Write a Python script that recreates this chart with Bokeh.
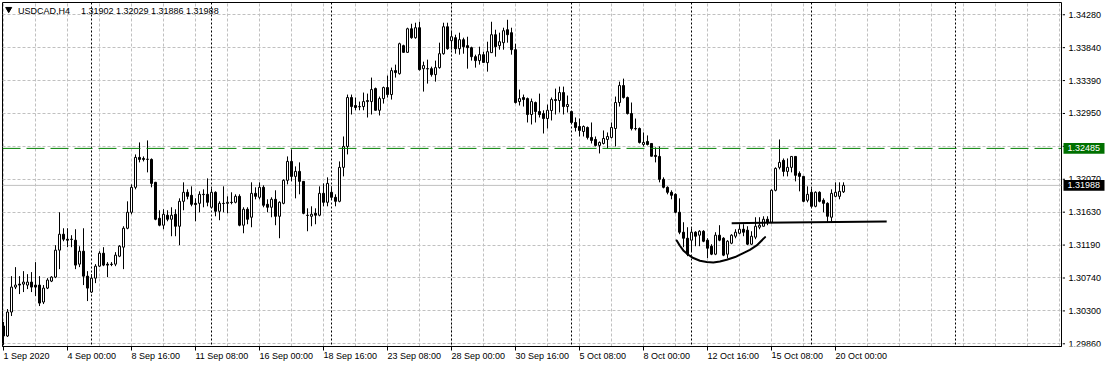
from bokeh.plotting import figure
from bokeh.layouts import row
from bokeh.models import Range1d, FixedTicker, Span, Label, ColumnDataSource, Grid
from bokeh.core.properties import value
from bokeh.embed import file_html
from bokeh.resources import INLINE

# ---------------- data (USDCAD H4, one value per bar) ----------------
open_p = [1.30099, 1.29965, 1.30287, 1.30622, 1.30662, 1.30662, 1.30649, 1.30689, 1.30649, 1.30649,
          1.30421, 1.30608, 1.30702, 1.30756, 1.31118, 1.31332, 1.31265, 1.31265, 1.31252, 1.30930,
          1.31104, 1.30769, 1.30555, 1.30742, 1.30903, 1.31077, 1.30930, 1.30930, 1.30930, 1.31037,
          1.31158, 1.31412, 1.31627, 1.31962, 1.32364, 1.32350, 1.32337, 1.32337, 1.32029, 1.31546,
          1.31453, 1.31587, 1.31533, 1.31600, 1.31439, 1.31774, 1.31895, 1.31855, 1.31747, 1.31747,
          1.31868, 1.31868, 1.31694, 1.31895, 1.31640, 1.31747, 1.31747, 1.31761, 1.31761, 1.31841,
          1.31453, 1.31667, 1.31560, 1.31881, 1.31828, 1.31962, 1.31734, 1.31694, 1.31801, 1.31573,
          1.31747, 1.32056, 1.32310, 1.32109, 1.32176, 1.32042, 1.31587, 1.31573, 1.31613, 1.31587,
          1.31881, 1.31761, 1.31895, 1.31828, 1.31774, 1.32230, 1.32511, 1.33168, 1.33061, 1.33047,
          1.33047, 1.33114, 1.33114, 1.33288, 1.32997, 1.33154, 1.33302, 1.33208, 1.33530, 1.33489,
          1.33865, 1.33775, 1.34092, 1.33972, 1.34106, 1.33556, 1.33556, 1.33556, 1.33476, 1.33570,
          1.33757, 1.34119, 1.33932, 1.33972, 1.33824, 1.33945, 1.33865, 1.33838, 1.33717, 1.33664,
          1.33744, 1.33637, 1.33771, 1.34012, 1.33865, 1.33905, 1.34079, 1.34039, 1.33811, 1.33114,
          1.33168, 1.33154, 1.32940, 1.33101, 1.32980, 1.32953, 1.32886, 1.32994, 1.33141, 1.33128,
          1.33235, 1.33047, 1.32980, 1.32833, 1.32779, 1.32712, 1.32766, 1.32632, 1.32605, 1.32525,
          1.32551, 1.32605, 1.32632, 1.32752, 1.33101, 1.33329, 1.33168, 1.32953, 1.32752, 1.32752,
          1.32538, 1.32578, 1.32551, 1.32391, 1.32377, 1.32069, 1.31962, 1.31895, 1.31868, 1.31627,
          1.31359, 1.31278, 1.31252, 1.31359, 1.31319, 1.31372, 1.31252, 1.31171, 1.31064, 1.31319,
          1.31278, 1.31064, 1.31211, 1.31305, 1.31345, 1.31399, 1.31386, 1.31198, 1.31292, 1.31426,
          1.31439, 1.31533, 1.31493, 1.31922, 1.32230, 1.32324, 1.32176, 1.32230, 1.32377, 1.32149,
          1.32109, 1.31788, 1.31895, 1.31707, 1.31895, 1.31788, 1.31747, 1.31560, 1.31841, 1.31841,
          1.31902]
high_p = [1.30153, 1.30327, 1.30769, 1.30890, 1.30769, 1.30836, 1.30796, 1.30823, 1.30957, 1.30769,
          1.30649, 1.30742, 1.30769, 1.31185, 1.31627, 1.31412, 1.31412, 1.31319, 1.31399, 1.31171,
          1.31412, 1.30836, 1.30796, 1.30930, 1.31104, 1.31158, 1.30957, 1.30957, 1.31091, 1.31185,
          1.31439, 1.31774, 1.32002, 1.32404, 1.32565, 1.32377, 1.32592, 1.32350, 1.32035, 1.31654,
          1.31667, 1.31654, 1.31694, 1.31667, 1.31814, 1.32029, 1.31935, 1.31975, 1.31814, 1.31908,
          1.31935, 1.32082, 1.31948, 1.31908, 1.31774, 1.31975, 1.31841, 1.31895, 1.31868, 1.31868,
          1.31694, 1.31694, 1.32029, 1.31962, 1.32029, 1.31989, 1.31801, 1.31828, 1.31922, 1.31774,
          1.32069, 1.32377, 1.32471, 1.32243, 1.32297, 1.32045, 1.31680, 1.31707, 1.31680, 1.31975,
          1.32015, 1.32096, 1.31975, 1.31868, 1.32310, 1.32645, 1.33208, 1.33208, 1.33168, 1.33114,
          1.33235, 1.33221, 1.33436, 1.33302, 1.33181, 1.33315, 1.33463, 1.33570, 1.33610, 1.33905,
          1.33878, 1.34106, 1.34159, 1.34173, 1.34186, 1.33650, 1.33677, 1.33583, 1.33664, 1.33905,
          1.34173, 1.34173, 1.34052, 1.34012, 1.34039, 1.33972, 1.33985, 1.33851, 1.33744, 1.33851,
          1.33784, 1.33918, 1.34186, 1.34079, 1.34039, 1.34106, 1.34213, 1.34106, 1.33891, 1.33275,
          1.33208, 1.33168, 1.33154, 1.33114, 1.33221, 1.32997, 1.33074, 1.33168, 1.33288, 1.33315,
          1.33315, 1.33195, 1.32985, 1.32900, 1.32886, 1.32793, 1.32779, 1.32833, 1.32645, 1.32578,
          1.32726, 1.32699, 1.32833, 1.33181, 1.33382, 1.33422, 1.33181, 1.33101, 1.32886, 1.32766,
          1.32699, 1.32659, 1.32555, 1.32498, 1.32511, 1.32096, 1.31975, 1.31922, 1.31881, 1.31814,
          1.31493, 1.31426, 1.31412, 1.31372, 1.31386, 1.31386, 1.31278, 1.31198, 1.31359, 1.31453,
          1.31292, 1.31252, 1.31332, 1.31399, 1.31466, 1.31466, 1.31439, 1.31372, 1.31560, 1.31560,
          1.31573, 1.31573, 1.31935, 1.32230, 1.32605, 1.32350, 1.32350, 1.32380, 1.32380, 1.32176,
          1.32112, 1.31975, 1.31948, 1.31908, 1.31908, 1.31814, 1.31761, 1.31935, 1.32029, 1.32029,
          1.32029]
low_p = [1.29845, 1.29952, 1.30233, 1.30595, 1.30528, 1.30555, 1.30595, 1.30555, 1.30501, 1.30367,
         1.30394, 1.30595, 1.30689, 1.30742, 1.30863, 1.31238, 1.31158, 1.31158, 1.30863, 1.30890,
         1.30649, 1.30434, 1.30541, 1.30675, 1.30890, 1.30903, 1.30756, 1.30903, 1.30903, 1.31024,
         1.30863, 1.31399, 1.31600, 1.31935, 1.32297, 1.32310, 1.32163, 1.31962, 1.31520, 1.31439,
         1.31399, 1.31506, 1.31305, 1.31305, 1.31185, 1.31654, 1.31801, 1.31707, 1.31506, 1.31627,
         1.31694, 1.31707, 1.31680, 1.31573, 1.31520, 1.31627, 1.31613, 1.31734, 1.31747, 1.31439,
         1.31345, 1.31466, 1.31426, 1.31801, 1.31801, 1.31694, 1.31627, 1.31560, 1.31453, 1.31278,
         1.31734, 1.32002, 1.32042, 1.31814, 1.31868, 1.31600, 1.31372, 1.31439, 1.31466, 1.31573,
         1.31707, 1.31707, 1.31801, 1.31707, 1.31761, 1.32109, 1.32404, 1.32940, 1.32997, 1.32997,
         1.32997, 1.32900, 1.32940, 1.32994, 1.32927, 1.33087, 1.33168, 1.33141, 1.33436, 1.33476,
         1.33771, 1.33771, 1.33958, 1.33958, 1.33530, 1.33248, 1.33355, 1.33449, 1.33382, 1.33556,
         1.33744, 1.33811, 1.33811, 1.33757, 1.33744, 1.33757, 1.33556, 1.33664, 1.33570, 1.33610,
         1.33637, 1.33516, 1.33768, 1.33717, 1.33811, 1.33811, 1.33905, 1.33744, 1.33087, 1.33061,
         1.33047, 1.32833, 1.32806, 1.32833, 1.32900, 1.32685, 1.32752, 1.32860, 1.32940, 1.32967,
         1.32940, 1.32967, 1.32819, 1.32712, 1.32645, 1.32645, 1.32605, 1.32551, 1.32511, 1.32417,
         1.32538, 1.32484, 1.32618, 1.32511, 1.33047, 1.33154, 1.32940, 1.32726, 1.32726, 1.32551,
         1.32511, 1.32525, 1.32377, 1.32297, 1.32029, 1.31948, 1.31868, 1.31801, 1.31613, 1.31332,
         1.31158, 1.31037, 1.31104, 1.31171, 1.31171, 1.31225, 1.31010, 1.31051, 1.31051, 1.31238,
         1.31037, 1.31010, 1.31198, 1.31278, 1.31332, 1.31305, 1.31185, 1.31185, 1.31265, 1.31399,
         1.31436, 1.31453, 1.31479, 1.31908, 1.32203, 1.32109, 1.32109, 1.32163, 1.32042, 1.31908,
         1.31761, 1.31761, 1.31694, 1.31694, 1.31761, 1.31627, 1.31493, 1.31493, 1.31828, 1.31801,
         1.31886]
close_p = [1.29965, 1.30287, 1.30622, 1.30649, 1.30649, 1.30689, 1.30689, 1.30622, 1.30622, 1.30407,
           1.30608, 1.30716, 1.30756, 1.31118, 1.31332, 1.31265, 1.31252, 1.31262, 1.30917, 1.31104,
           1.30769, 1.30608, 1.30742, 1.30903, 1.31077, 1.30917, 1.30917, 1.30925, 1.31051, 1.31171,
           1.31412, 1.31627, 1.31962, 1.32364, 1.32337, 1.32337, 1.32340, 1.32015, 1.31533, 1.31453,
           1.31600, 1.31533, 1.31587, 1.31439, 1.31774, 1.31895, 1.31841, 1.31734, 1.31730, 1.31868,
           1.31864, 1.31761, 1.31895, 1.31640, 1.31747, 1.31744, 1.31761, 1.31758, 1.31841, 1.31453,
           1.31667, 1.31533, 1.31881, 1.31841, 1.31962, 1.31721, 1.31694, 1.31801, 1.31573, 1.31761,
           1.32056, 1.32310, 1.32109, 1.32176, 1.32042, 1.31613, 1.31584, 1.31600, 1.31587, 1.31881,
           1.31761, 1.32015, 1.31828, 1.31774, 1.32230, 1.32511, 1.33168, 1.33047, 1.33034, 1.33044,
           1.33114, 1.33128, 1.33275, 1.32997, 1.33154, 1.33302, 1.33208, 1.33530, 1.33503, 1.33891,
           1.33775, 1.34092, 1.33972, 1.34106, 1.33543, 1.33597, 1.33553, 1.33476, 1.33570, 1.33757,
           1.34119, 1.33824, 1.33985, 1.33824, 1.33945, 1.33851, 1.33838, 1.33717, 1.33664, 1.33744,
           1.33640, 1.33784, 1.34012, 1.33851, 1.33918, 1.34066, 1.34012, 1.33811, 1.33101, 1.33154,
           1.33141, 1.32940, 1.33114, 1.32980, 1.32940, 1.32886, 1.32997, 1.33141, 1.33128, 1.33235,
           1.33047, 1.33074, 1.32833, 1.32766, 1.32726, 1.32779, 1.32632, 1.32592, 1.32525, 1.32565,
           1.32618, 1.32645, 1.32766, 1.33101, 1.33329, 1.33168, 1.32953, 1.32752, 1.32748, 1.32565,
           1.32565, 1.32538, 1.32380, 1.32377, 1.32069, 1.31962, 1.31895, 1.31855, 1.31627, 1.31359,
           1.31278, 1.31064, 1.31359, 1.31305, 1.31372, 1.31238, 1.31144, 1.31064, 1.31319, 1.31252,
           1.31051, 1.31238, 1.31319, 1.31359, 1.31399, 1.31359, 1.31198, 1.31305, 1.31439, 1.31453,
           1.31533, 1.31493, 1.31922, 1.32216, 1.32297, 1.32176, 1.32230, 1.32377, 1.32123, 1.32109,
           1.31774, 1.31868, 1.31707, 1.31895, 1.31774, 1.31747, 1.31573, 1.31881, 1.31895, 1.31908,
           1.31988]

# bottom axis: bar index of each labelled tick and its text
x_tick_index = [0, 16, 32, 48, 64, 80, 96, 112, 128, 144, 160, 176, 192, 208]
x_tick_labels = ["1 Sep 2020", "4 Sep 00:00", "8 Sep 16:00", "11 Sep 08:00", "16 Sep 00:00",
                 "18 Sep 16:00", "23 Sep 08:00", "28 Sep 00:00", "30 Sep 16:00", "5 Oct 08:00",
                 "8 Oct 00:00", "12 Oct 16:00", "15 Oct 08:00", "20 Oct 00:00"]
# right price scale: grid levels and their labels
y_tick_values = [1.29860, 1.30302, 1.30744, 1.31186, 1.31628, 1.32070, 1.32512,
                 1.32954, 1.33396, 1.33838, 1.34280]
y_tick_labels = ["1.29860", "1.30300", "1.30740", "1.31190", "1.31630", "1.32070", "1.32510",
                 "1.32950", "1.33390", "1.33840", "1.34280"]

# period separators (bar index) and drawn objects
separator_index = [22, 52, 82, 112, 142, 172, 202, 238]
level_price = 1.32485      # green horizontal level
bid_price = 1.31988        # current price line
tag_prices = [level_price, bid_price]
tag_texts = ["1.32485", "1.31988"]
trend_x = [182.05, 220.8]
trend_y = [1.31481, 1.31502]
cup_x = [168.3, 169.1, 169.95, 171.2, 172.45, 174.1, 175.8, 177.45, 179.1, 180.8,
         182.9, 184.95, 186.6, 188.3, 190.4]
cup_y = [1.31248, 1.31177, 1.31114, 1.31056, 1.31012, 1.30976, 1.30958, 1.30953, 1.30966,
         1.30989, 1.31025, 1.31079, 1.31123, 1.31181, 1.31293]

title_symbol = "USDCAD,H4"
title_prices = "1.31902 1.32029 1.31886 1.31988"

# ---------------- layout constants ----------------
FONT = "Liberation Sans"
GREEN = "#008000"
GRID = "#C0C0C0"
Y0, Y1 = 1.298238, 1.344447
FRAME_H = 345
PX = (Y1 - Y0) / FRAME_H      # price per screen pixel
yrange = Range1d(Y0, Y1)

n = len(close_p)
idx = list(range(n))
src = ColumnDataSource(dict(
    x=idx, high=high_p, low=low_p,
    top=[max(o, c) for o, c in zip(open_p, close_p)],
    bottom=[min(o, c) for o, c in zip(open_p, close_p)],
    fill=["white" if c >= o else "black" for o, c in zip(open_p, close_p)],
))

# ---------------- main chart ----------------
p = figure(width=1062, height=368, output_backend="svg", toolbar_location=None, tools="",
           x_range=Range1d(-0.25, 264.5), y_range=yrange,
           y_axis_location=None, x_axis_location="below",
           min_border_left=2, min_border_right=1, min_border_top=2, min_border_bottom=21)
p.background_fill_color = "white"
p.border_fill_color = "white"
p.outline_line_color = "black"
p.outline_line_width = 1

# grid
p.xgrid.ticker = FixedTicker(ticks=list(range(0, 265, 8)))
if len(p.ygrid) == 0:
    p.add_layout(Grid(dimension=1, ticker=FixedTicker(ticks=y_tick_values)))
else:
    p.ygrid.ticker = FixedTicker(ticks=y_tick_values)
for g in list(p.xgrid) + list(p.ygrid):
    g.grid_line_color = GRID
    g.grid_line_dash = "3 2"
    g.grid_line_width = 1

# bottom time axis
xa = p.xaxis[0]
xa.ticker = FixedTicker(ticks=x_tick_index)
xa.major_label_overrides = {i: t for i, t in zip(x_tick_index, x_tick_labels)}
xa.axis_line_color = "black"
xa.major_tick_line_color = "black"
xa.minor_tick_line_color = None
xa.major_tick_in = 0
xa.major_tick_out = 4
xa.major_label_text_font = FONT
xa.major_label_text_font_size = "9px"
xa.major_label_text_color = "black"
xa.major_label_standoff = 5
xa.major_label_orientation = -0.0001   # numeric orientation -> labels start at the tick

# separators and bid line (behind candles)
for sep in separator_index:
    p.add_layout(Span(location=sep, dimension="height", line_color="black",
                      line_dash="2 2", line_width=1, level="underlay"))
p.add_layout(Span(location=bid_price, dimension="width", line_color=GRID,
                  line_width=1, level="underlay"))

# candles
p.segment(x0="x", y0="low", x1="x", y1="high", source=src, line_color="black", line_width=1)
p.vbar(x="x", width=0.5, top="top", bottom="bottom", source=src,
       fill_color="fill", line_color="black", line_width=1)

# drawn objects
p.add_layout(Span(location=level_price, dimension="width", line_color=GREEN,
                  line_dash="18 6", line_width=1))
p.line(trend_x, trend_y, line_color="black", line_width=2)
p.line(cup_x, cup_y, line_color="black", line_width=2, line_cap="round", line_join="round")

# title
p.scatter([1.3], [1.34355], marker="inverted_triangle", size=6, color="black")
p.add_layout(Label(x=3.625, y=1.34334, text=title_symbol, text_color="black",
                   text_font=FONT, text_font_size="9px", text_baseline="middle"))
p.add_layout(Label(x=19.375, y=1.34334, text=title_prices, text_color="black",
                   text_font=FONT, text_font_size="9px", text_baseline="middle"))

# ---------------- right price scale (same price range, pixel x) ----------------
s = figure(width=45, height=368, output_backend="svg", toolbar_location=None, tools="",
           x_range=Range1d(1062, 1107), y_range=yrange,
           x_axis_location=None, y_axis_location=None,
           min_border_left=0, min_border_right=0, min_border_top=2, min_border_bottom=21)
s.outline_line_color = None
s.background_fill_color = "white"
s.border_fill_color = "white"
for g in s.grid:
    g.visible = False

m = len(y_tick_values)
s.segment(x0=[1062] * m, y0=y_tick_values, x1=[1064.5] * m, y1=y_tick_values,
          line_color="black", line_width=1)
s.text(x=[1068] * m, y=y_tick_values, text=y_tick_labels, text_font=value(FONT),
       text_font_size=value("9px"), text_color="black", text_baseline="middle",
       text_align="left")
s.quad(left=[1063, 1063], right=[1104, 1104],
       top=[t + 5.5 * PX for t in tag_prices], bottom=[t - 5.5 * PX for t in tag_prices],
       fill_color=["#007000", "black"], line_color=None)
s.text(x=[1067, 1067], y=tag_prices, text=tag_texts, text_font=value(FONT),
       text_font_size=value("9px"), text_color="white", text_baseline="middle",
       text_align="left")

layout = row(p, s, spacing=0)
open("out.html", "w").write(file_html(layout, INLINE))
